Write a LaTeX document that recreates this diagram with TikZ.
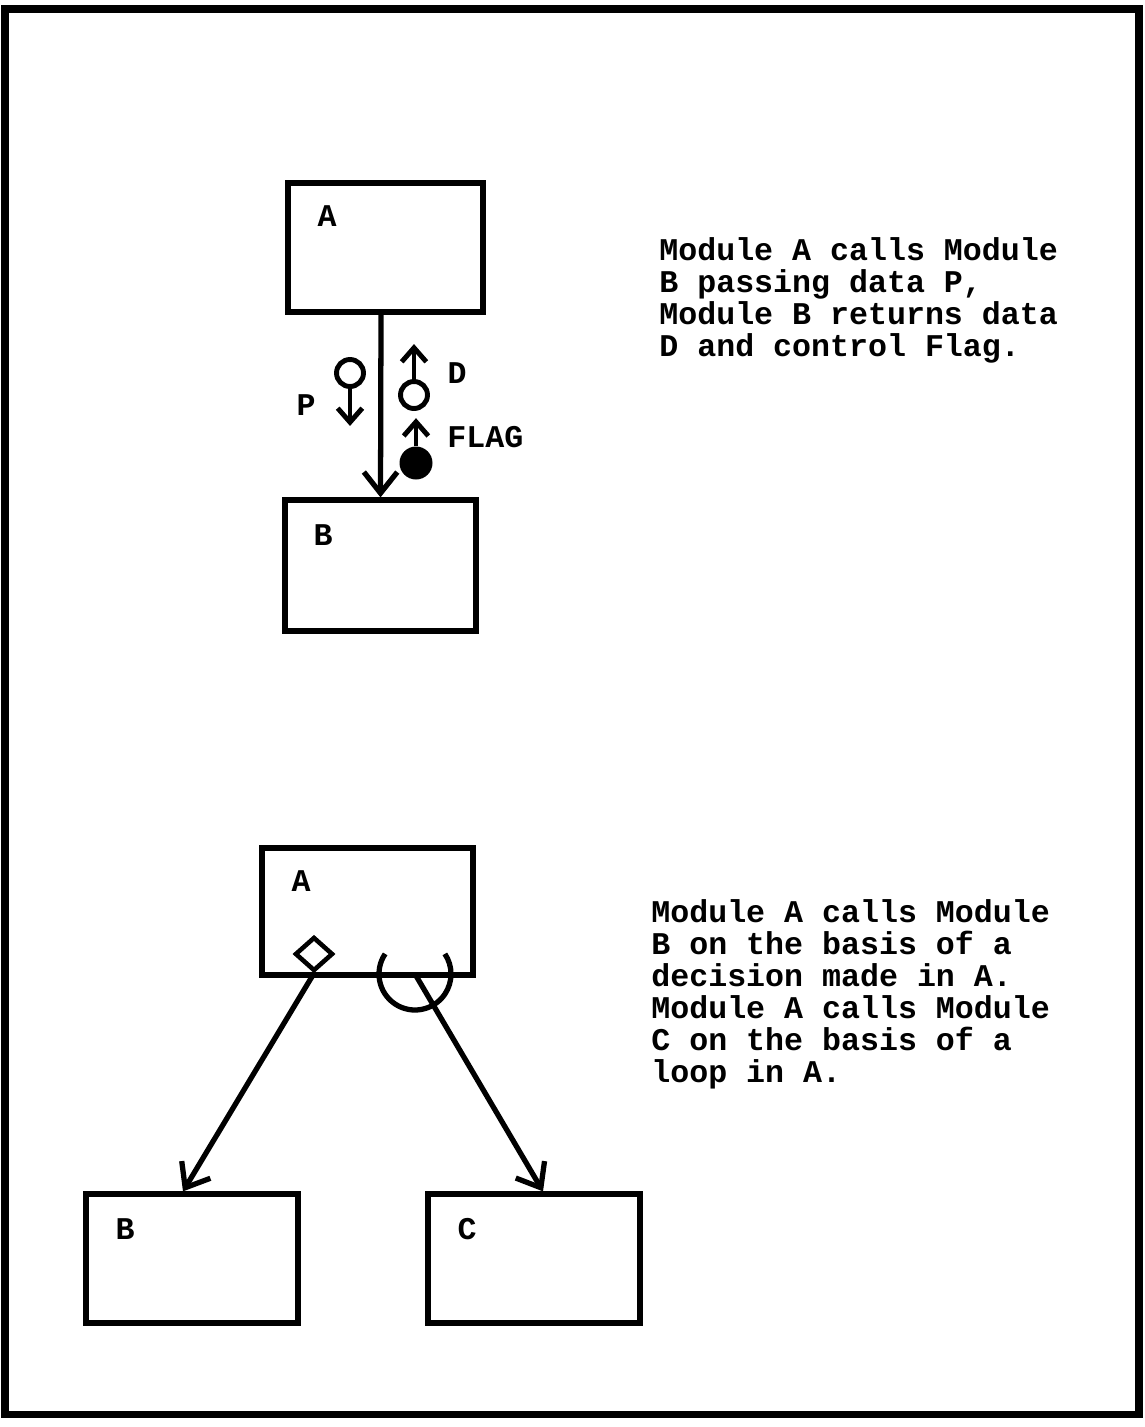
\documentclass[tikz,border=0pt]{standalone}
\usepackage{fontspec}
\setmonofont{Liberation Mono}
\usetikzlibrary{arrows.meta,shapes.geometric}
\begin{document}
\begin{tikzpicture}[
  x=0.02cm, y=-0.02cm,
  module/.style={draw, line width=3pt, inner sep=0pt},
  lbl/.style={font=\fontsize{18}{18.2}\ttfamily\bfseries, inner sep=0pt},
  note/.style={lbl, align=left, anchor=north west},
  call/.style={line width=3pt, -{Straight Barb[length=12pt, width=19pt]}},
  couple/.style={line width=2.8pt, -{Straight Barb[length=8pt, width=14pt]}},
  datum/.style={circle, draw, line width=2.8pt, inner sep=0pt, minimum size=0.54cm},
  flag/.style={circle, fill, inner sep=0pt, minimum size=0.66cm}
]
\useasboundingbox (0,0) rectangle (1145,1427);
\draw[line width=4pt] (5,9) rectangle (1139,1414);

% call with data and a control flag
\node[module, minimum width=3.9cm, minimum height=2.58cm] (topA) at (385.5,247.5) {};
\node[module, minimum width=3.82cm, minimum height=2.62cm] (topB) at (380.5,565.5) {};
\node[lbl, anchor=north west] at ([shift={(32,25)}]topA.north west) {A};
\node[lbl, anchor=north west] at ([shift={(31,27)}]topB.north west) {B};
\draw[call] ([xshift=-0.09cm]topA.south) -- (topB.north);

\node[datum] (pData) at (350,373) {};
\draw[couple] (pData.south) -- ++(0,37);
\node[lbl] at (306,405) {P};
\node[datum] (dData) at (414,395) {};
\draw[couple] (dData.north) -- ++(0,-35);
\node[lbl] at (457,373) {D};
\node[flag] (flagCtl) at (416,463) {};
\draw[couple] (flagCtl.north) -- ++(0,-28);
\node[lbl, anchor=west] at (447,437) {FLAG};

\node[note] (noteTop) at (659,237) {Module A calls Module\\B passing data P,\\Module B returns data\\D and control Flag.};

% decision and loop
\node[module, minimum width=4.22cm, minimum height=2.54cm] (botA) at (367.5,911.5) {};
\node[module, minimum width=4.24cm, minimum height=2.58cm] (botB) at (192,1258.5) {};
\node[module, minimum width=4.24cm, minimum height=2.58cm] (botC) at (534,1258.5) {};
\node[lbl, anchor=north west] at ([shift={(32,25)}]botA.north west) {A};
\node[lbl, anchor=north west] at ([shift={(32,27)}]botB.north west) {B};
\node[lbl, anchor=north west] at ([shift={(32,27)}]botC.north west) {C};

\node[diamond, draw, fill=white, line width=2.6pt, inner sep=0pt, aspect=1,
  minimum width=0.76cm, minimum height=0.68cm] (decide) at (314,954) {};
\coordinate (loopc) at (415,974);
\draw[line width=3pt] (loopc) ++(214:36) arc[start angle=214, end angle=-34, radius=36];
\draw[call] (decide.south) -- ([xshift=-0.18cm]botB.north);
\draw[call] (loopc) -- ([xshift=0.18cm]botC.north);

\node[note] (noteBot) at (651,899) {Module A calls Module\\B on the basis of a\\decision made in A.\\Module A calls Module\\C on the basis of a\\loop in A.};
\end{tikzpicture}
\end{document}
